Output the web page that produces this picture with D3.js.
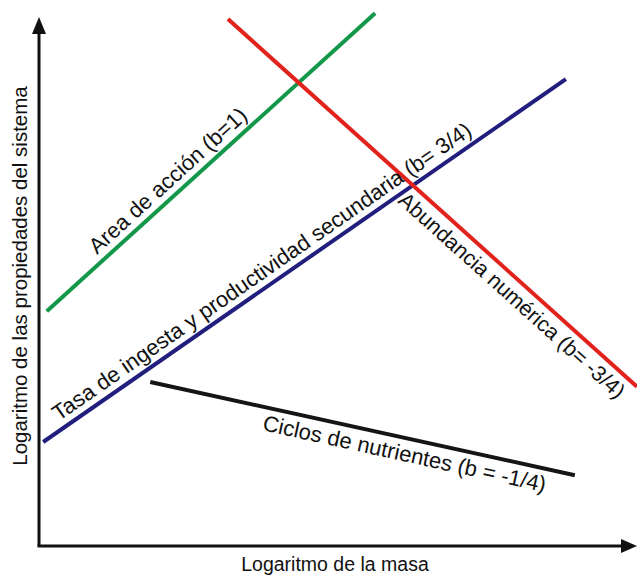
<!DOCTYPE html>
<html>
<head>
<meta charset="utf-8">
<script src="https://cdn.jsdelivr.net/npm/d3@7"></script>
<style>
  body { margin: 0; background: #fff; }
  text { font-family: "Liberation Sans", Arial, sans-serif; fill: #111; }
</style>
</head>
<body>
<div id="chart"></div>
<script>
// series names and labels
var names = ["area", "tasa", "abundancia", "ciclos"];
var labels = [
    "Area de acción (b=1)",
    "Tasa de ingesta y productividad secundaria (b= 3/4)",
    "Abundancia numérica (b= -3/4)",
    "Ciclos de nutrientes (b = -1/4)"
];
// start and end of each line, in log units (0-100)
var startX = [1.3, 0.7, 31.6, 18.6];
var startY = [43.8, 19.4, 98.3, 30.6];
var endX   = [56.2, 88.1, 100, 89.6];
var endY   = [99.4, 87.1, 29.7, 13.2];

var xTitle = "Logaritmo de la masa";
var yTitle = "Logaritmo de las propiedades del sistema";

// styling
var colors = ["#13984a", "#221e7e", "#e2231d", "#151515"];
var labelPos = [0.40, 0.435, 0.72, 0.607];  // fraction along the line
var labelSide = [-1, -1, 1, 1];             // -1 above, 1 below
var labelSize = [22, 22, 21.5, 22];

var width = 637, height = 577;

var svg = d3.select("#chart")
    .append("svg")
    .attr("width", width)
    .attr("height", height);

var x = d3.scaleLinear().domain([0, 100]).range([39, 637]);
var y = d3.scaleLinear().domain([0, 100]).range([546, 10]);

// axes with arrow heads
svg.append("path")
    .attr("d", "M" + x(0) + "," + y(0) + "V" + (y(98.7) + 14))
    .attr("stroke", "#111").attr("stroke-width", 3).attr("fill", "none");
svg.append("path")
    .attr("d", "M" + (x(0) - 1.5) + "," + y(0) + "H" + (x(100) - 12))
    .attr("stroke", "#111").attr("stroke-width", 3).attr("fill", "none");
svg.append("path")
    .attr("d", "M" + x(0) + "," + y(98.7) + "l-7,17l14,0z")
    .attr("fill", "#111");
svg.append("path")
    .attr("d", "M" + x(100) + "," + y(0) + "l-16,-7l0,14z")
    .attr("fill", "#111");

// axis titles
svg.append("text")
    .attr("text-anchor", "middle")
    .attr("x", 335)
    .attr("y", 571)
    .style("font-size", "19.5px")
    .text(xTitle);

svg.append("text")
    .attr("text-anchor", "middle")
    .attr("transform", "translate(27,276) rotate(-90)")
    .style("font-size", "20.5px")
    .text(yTitle);

// lines
var idx = d3.range(names.length);

svg.selectAll(".rel")
    .data(idx)
    .enter()
    .append("line")
    .attr("class", "rel")
    .attr("x1", function (i) { return x(startX[i]); })
    .attr("y1", function (i) { return y(startY[i]); })
    .attr("x2", function (i) { return x(endX[i]); })
    .attr("y2", function (i) { return y(endY[i]); })
    .attr("stroke", function (i) { return colors[i]; })
    .attr("stroke-width", 4);

// labels along each line
svg.selectAll(".lab")
    .data(idx)
    .enter()
    .append("text")
    .attr("class", "lab")
    .attr("text-anchor", "middle")
    .style("font-size", function (i) { return labelSize[i] + "px"; })
    .attr("transform", function (i) {
        var x1 = x(startX[i]), y1 = y(startY[i]), x2 = x(endX[i]), y2 = y(endY[i]);
        var t = labelPos[i];
        var px = x1 + (x2 - x1) * t, py = y1 + (y2 - y1) * t;
        var a = Math.atan2(y2 - y1, x2 - x1) * 180 / Math.PI;
        return "translate(" + px + "," + py + ") rotate(" + a + ")";
    })
    .attr("dy", function (i) { return labelSide[i] < 0 ? -8 : 23; })
    .text(function (i) { return labels[i]; });
</script>
</body>
</html>
